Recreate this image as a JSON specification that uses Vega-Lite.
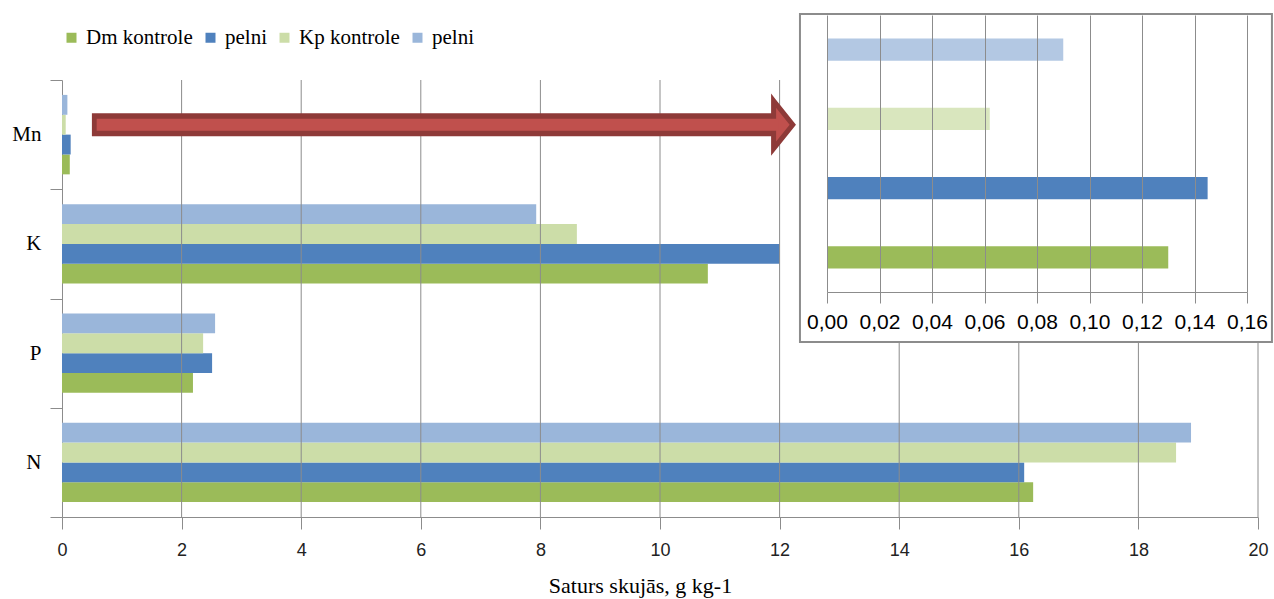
{
  "$schema": "https://vega.github.io/schema/vega-lite/v6.json",
  "width": 1196,
  "height": 437,
  "autosize": "none",
  "padding": {"left": 62, "top": 80, "right": 16, "bottom": 82},
  "background": "white",
  "config": {
    "view": {"stroke": null},
    "axis": {"domainColor": "#8c8c8c", "tickColor": "#8c8c8c", "labelColor": "#000000", "titleColor": "#000000"}
  },
  "datasets": {
    "bars": [
      {"el": "Mn", "s": "Dm kontrole", "v": 0.13},
      {"el": "Mn", "s": "Dm pelni", "v": 0.145},
      {"el": "Mn", "s": "Kp kontrole", "v": 0.062},
      {"el": "Mn", "s": "Kp pelni", "v": 0.09},
      {"el": "K", "s": "Dm kontrole", "v": 10.8},
      {"el": "K", "s": "Dm pelni", "v": 12.0},
      {"el": "K", "s": "Kp kontrole", "v": 8.61},
      {"el": "K", "s": "Kp pelni", "v": 7.93},
      {"el": "P", "s": "Dm kontrole", "v": 2.19},
      {"el": "P", "s": "Dm pelni", "v": 2.51},
      {"el": "P", "s": "Kp kontrole", "v": 2.36},
      {"el": "P", "s": "Kp pelni", "v": 2.56},
      {"el": "N", "s": "Dm kontrole", "v": 16.24},
      {"el": "N", "s": "Dm pelni", "v": 16.09},
      {"el": "N", "s": "Kp kontrole", "v": 18.63},
      {"el": "N", "s": "Kp pelni", "v": 18.88}
    ],
    "grid": [{"t": 2}, {"t": 4}, {"t": 6}, {"t": 8}, {"t": 10}, {"t": 12}, {"t": 14}, {"t": 16}, {"t": 18}, {"t": 20}],
    "arrow": [{"el": "Mn", "s": "Kp kontrole", "from": 0.5, "to": 11.9, "ifrom": 0.58, "ito": 11.98, "head": 12.06}],
    "box": [{"x0": -0.0103, "x1": 0.1695, "y0": 0, "y1": 1}]
  },
  "layer": [
    {
      "layer": [
        {
          "data": {"name": "bars"},
          "mark": {"type": "bar"},
          "encoding": {
            "y": {
              "field": "el", "type": "nominal",
              "scale": {"domain": ["Mn", "K", "P", "N"], "paddingInner": 0, "paddingOuter": 0},
              "axis": {
                "title": null, "tickBand": "extent", "tickSize": 12, "labelPadding": 9,
                "labelFont": "Liberation Serif", "labelFontSize": 21, "labelAngle": 0, "grid": false
              }
            },
            "yOffset": {
              "field": "s", "type": "nominal",
              "scale": {"domain": ["Kp pelni", "Kp kontrole", "Dm pelni", "Dm kontrole"], "paddingInner": 0, "paddingOuter": 0.75}
            },
            "x": {
              "field": "v", "type": "quantitative",
              "scale": {"domain": [0, 20], "nice": false},
              "axis": {
                "title": "Saturs skujās, g kg-1", "values": [0, 2, 4, 6, 8, 10, 12, 14, 16, 18, 20], "format": "d",
                "grid": false, "tickSize": 12, "labelPadding": 12, "labelFlush": false,
                "labelFont": "Liberation Sans", "labelFontSize": 18, "labelColor": "#222222",
                "titleFont": "Liberation Serif", "titleFontSize": 22, "titleFontWeight": "normal",
                "titlePadding": 16, "titleX": 578, "orient": "bottom"
              }
            },
            "color": {
              "field": "s", "type": "nominal",
              "scale": {"domain": ["Dm kontrole", "Dm pelni", "Kp kontrole", "Kp pelni"], "range": ["#9BBB59", "#4F81BD", "#CCDDA8", "#9AB6DA"]},
              "legend": {
                "title": null, "orient": "none", "direction": "horizontal", "legendX": -1, "legendY": -53,
                "symbolType": "square", "symbolSize": 100, "symbolStrokeWidth": 0, "labelOffset": 4, "columnPadding": 7,
                "labelFont": "Liberation Serif", "labelFontSize": 21, "labelColor": "#000000",
                "labelExpr": "indexof(datum.label, 'pelni') >= 0 ? 'pelni' : datum.label"
              }
            }
          }
        },
        {
          "data": {"name": "grid"},
          "mark": {"type": "rule", "color": "#8c8c8c", "strokeWidth": 1},
          "encoding": {"x": {"field": "t", "type": "quantitative"}}
        },
        {
          "data": {"name": "arrow"},
          "mark": {"type": "rule", "color": "#8E3A38", "strokeWidth": 23, "strokeCap": "butt"},
          "encoding": {
            "y": {"field": "el", "type": "nominal"},
            "yOffset": {"field": "s", "type": "nominal"},
            "x": {"field": "from", "type": "quantitative"},
            "x2": {"field": "to"}
          }
        },
        {
          "data": {"name": "arrow"},
          "mark": {"type": "point", "shape": "M-0.4,-1L0.4,0L-0.4,1Z", "filled": true, "fill": "#C0504D", "stroke": "#8E3A38", "strokeWidth": 5, "strokeJoin": "miter", "size": 2300, "opacity": 1},
          "encoding": {
            "y": {"field": "el", "type": "nominal"},
            "yOffset": {"field": "s", "type": "nominal"},
            "x": {"field": "head", "type": "quantitative"}
          }
        },
        {
          "data": {"name": "arrow"},
          "mark": {"type": "rule", "color": "#C0504D", "strokeWidth": 12, "strokeCap": "butt"},
          "encoding": {
            "y": {"field": "el", "type": "nominal"},
            "yOffset": {"field": "s", "type": "nominal"},
            "x": {"field": "ifrom", "type": "quantitative"},
            "x2": {"field": "ito"}
          }
        }
      ]
    },
    {
      "data": {"name": "box"},
      "mark": {"type": "rect", "fill": "white", "stroke": "#8c8c8c", "strokeWidth": 2},
      "encoding": {
        "x": {
          "field": "x0", "type": "quantitative",
          "scale": {"domain": [0, 0.16], "range": [765, 1185], "nice": false, "zero": false},
          "axis": {
            "orient": "bottom", "offset": -225, "title": null, "zindex": 1,
            "values": [0, 0.02, 0.04, 0.06, 0.08, 0.1, 0.12, 0.14, 0.16],
            "grid": true, "gridColor": "#8c8c8c", "tickSize": 11, "labelPadding": 8, "labelOverlap": false, "labelFlush": false,
            "labelFont": "Liberation Sans", "labelFontSize": 21, "labelColor": "#000000",
            "labelExpr": "replace(format(datum.value, '.2f'), '.', ',')"
          }
        },
        "x2": {"field": "x1"},
        "y": {
          "field": "y0", "type": "quantitative",
          "scale": {"domain": [-0.7317, 0.1128], "range": [502, 225], "nice": false, "zero": false},
          "axis": null
        },
        "y2": {"field": "y1"}
      }
    },
    {
      "data": {"name": "bars"},
      "transform": [{"filter": "datum.el == 'Mn'"}],
      "mark": {"type": "bar"},
      "encoding": {
        "y": {
          "field": "s", "type": "nominal",
          "scale": {"domain": ["Kp pelni", "Kp kontrole", "Dm pelni", "Dm kontrole"], "range": [-65, 212], "paddingInner": 0.68, "paddingOuter": 0.34},
          "axis": null
        },
        "x": {
          "field": "v", "type": "quantitative",
          "scale": {"domain": [0, 0.16], "range": [765, 1185], "nice": false},
          "axis": null
        },
        "color": {"field": "s", "type": "nominal", "legend": null},
        "opacity": {"condition": {"test": "indexof(datum.s, 'Kp') >= 0", "value": 0.75}, "value": 1}
      }
    }
  ],
  "resolve": {"scale": {"x": "independent", "y": "independent"}}
}
